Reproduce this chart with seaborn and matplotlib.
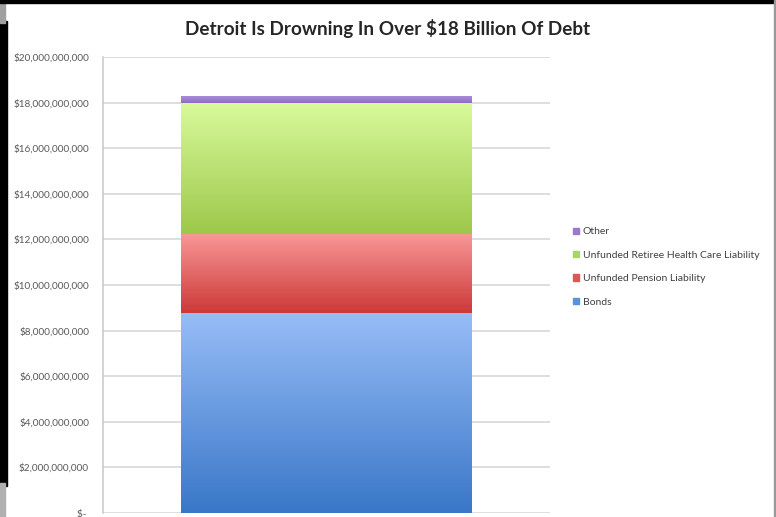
import numpy as np
import matplotlib
matplotlib.use("Agg")
import matplotlib.pyplot as plt
from matplotlib.patches import Rectangle
from matplotlib.colors import to_rgb
import pandas as pd
import seaborn as sns

# Detroit debt composition (US dollars), bottom to top of the stack
categories = ["Bonds", "Unfunded Pension Liability",
              "Unfunded Retiree Health Care Liability", "Other"]
amounts = [8.75e9, 3.5e9, 5.75e9, 0.3e9]
y_ticks = [0, 2e9, 4e9, 6e9, 8e9, 10e9, 12e9, 14e9, 16e9, 18e9, 20e9]
title = "Detroit Is Drowning In Over $18 Billion Of Debt"

# (top colour, bottom colour) of each segment's vertical gradient
shades = {
    "Bonds": ("#97bdf7", "#3a77c8"),
    "Unfunded Pension Liability": ("#f99898", "#cc3a39"),
    "Unfunded Retiree Health Care Liability": ("#d9fa9c", "#9cc84a"),
    "Other": ("#ab8cd9", "#8f6cc0"),
}
legend_colors = {
    "Bonds": "#5b8fe0",
    "Unfunded Pension Liability": "#e05555",
    "Unfunded Retiree Health Care Liability": "#a8d85a",
    "Other": "#9a78cc",
}

df = pd.DataFrame({"segment": categories, "amount": amounts})
df["top"] = df["amount"].cumsum()
df["bottom"] = df["top"] - df["amount"]

sns.set_theme(style="white")
plt.rcParams["font.family"] = ["Lato", "DejaVu Sans"]

W, H = 776, 517
fig = plt.figure(figsize=(W / 100, H / 100), dpi=100, facecolor="white")
ax = fig.add_axes([103 / W, (H - 513) / H, (550 - 103) / W, (513 - 57) / H])

# Stack drawn from the tallest cumulative total down, so each layer sits on the one below
for _, row in df.iloc[::-1].iterrows():
    sns.barplot(data=pd.DataFrame({"x": ["Debt"], "v": [row["top"]]}),
                x="x", y="v", color=legend_colors[row["segment"]],
                width=0.65, saturation=1, ax=ax, zorder=2, edgecolor="none")

# Vertical gradient fill for each segment
bar = ax.patches[0]
x0, x1 = bar.get_x(), bar.get_x() + bar.get_width()
for _, row in df.iterrows():
    top_c, bot_c = (np.array(to_rgb(c)) for c in shades[row["segment"]])
    t = np.linspace(0, 1, 256)[:, None]
    grad = (bot_c[None, :] * (1 - t) + top_c[None, :] * t)[:, None, :]
    ax.imshow(grad, extent=[x0, x1, row["bottom"], row["top"]],
              origin="lower", aspect="auto", zorder=3, interpolation="bilinear")

ax.set_xlim(-0.5, 0.5)
ax.set_ylim(0, 20e9)
ax.set_xlabel("")
ax.set_ylabel("")
ax.set_xticks([])
ax.set_yticks(y_ticks)
ax.set_yticklabels(["$- " if v == 0 else f"${v:,.0f}" for v in y_ticks],
                   fontsize=7.2, color="#595959")
ax.tick_params(axis="y", length=0, pad=10)
ax.yaxis.grid(True, color="#d4d4d4", linewidth=1.1, zorder=0)
ax.set_axisbelow(True)
for side in ["top", "right", "bottom"]:
    ax.spines[side].set_visible(False)
ax.spines["left"].set_color("#c8c8c8")
ax.spines["left"].set_linewidth(1.1)

fig.text(388 / W, (H - 28) / H, title, ha="center", va="center",
         fontsize=13.6, fontweight="bold", color="#262626")

# Legend, top entry first
handles = [Rectangle((0, 0), 1, 1, color=legend_colors[c]) for c in categories[::-1]]
fig.legend(handles, categories[::-1], loc="center left",
           bbox_to_anchor=(569 / W, (H - 267) / H), frameon=False,
           fontsize=7.5, labelcolor="#404040", handlelength=0.55,
           handleheight=0.55, handletextpad=0.35, labelspacing=1.38,
           borderaxespad=0)

# Screen frame around the chart
fig.patches.append(Rectangle((0, 0.06), 7 / W, 0.9, transform=fig.transFigure,
                             color="black", zorder=10))
fig.patches.append(Rectangle((0, 0.0), 5 / W, 0.065, transform=fig.transFigure,
                             color="#b0b0b0", zorder=10))
fig.patches.append(Rectangle((0, 0.955), 5 / W, 0.045, transform=fig.transFigure,
                             color="#a0a0a0", zorder=10))
fig.patches.append(Rectangle((0, 1 - 3 / H), 1, 3 / H, transform=fig.transFigure,
                             color="black", zorder=10))
fig.patches.append(Rectangle((1 - 2 / W, 0), 2 / W, 1, transform=fig.transFigure,
                             color="#9a9a9a", zorder=10))

fig.savefig("out.png", dpi=100, facecolor="white")
